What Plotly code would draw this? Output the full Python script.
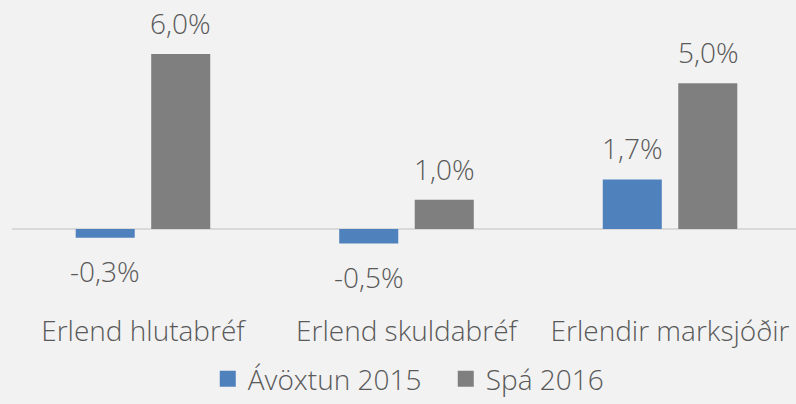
import plotly.graph_objects as go

categories = ["Erlend hlutabréf", "Erlend skuldabréf", "Erlendir marksjóðir"]
series_names = ["Ávöxtun 2015", "Spá 2016"]
avoxtun_2015 = [-0.3, -0.5, 1.7]
spa_2016 = [6.0, 1.0, 5.0]
colors = ["#4F81BD", "#7F7F7F"]

FONT = "Open Sans"
TEXT_COLOR = "#595959"

def fmt(v):
    return f"{v:.1f}".replace(".", ",") + "%"

fig = go.Figure()
for name, vals, col in zip(series_names, [avoxtun_2015, spa_2016], colors):
    fig.add_trace(go.Bar(
        x=categories, y=vals, name=name, marker_color=col,
        marker_line_width=0, hoverinfo="skip", showlegend=False,
    ))

# legend entries with larger square swatches
for name, col in zip(series_names, colors):
    fig.add_trace(go.Scatter(
        x=[None], y=[None], mode="markers", name=name,
        marker=dict(symbol="square", size=16, color=col), hoverinfo="skip",
    ))

# value labels: above positive bars, below negative bars
annotations = []
for i, vals in enumerate([avoxtun_2015, spa_2016]):
    for j, v in enumerate(vals):
        annotations.append(dict(
            x=j, y=v, xref="x", yref="y",
            xshift=(-38 if i == 0 else 38),
            yshift=(31 if v >= 0 else -33),
            text=fmt(v), showarrow=False, yanchor="middle",
            font=dict(family=FONT, size=28, color=TEXT_COLOR, weight=300),
        ))

fig.update_layout(
    width=796, height=404,
    margin=dict(l=12, r=0, t=0, b=92, autoexpand=False),
    paper_bgcolor="#F2F2F2", plot_bgcolor="#F2F2F2",
    barmode="group", bargap=0.427, bargroupgap=0.218,
    font=dict(family=FONT, size=28, color=TEXT_COLOR, weight=300),
    showlegend=True,
    legend=dict(orientation="h", xref="container", yref="container",
                x=0.560, xanchor="center", y=-0.017, yanchor="bottom",
                font=dict(family=FONT, size=28, color=TEXT_COLOR, weight=300),
                itemwidth=30, traceorder="normal", itemsizing="trace",
                entrywidth=193, entrywidthmode="pixels", borderwidth=0),
    annotations=annotations,
    xaxis=dict(showgrid=False, showline=False, ticks="", tickfont=dict(size=28),
               range=[-0.497, 2.478]),
    yaxis=dict(range=[-2.845, 7.85], showgrid=False, showticklabels=False,
               zeroline=True, zerolinecolor="#D9D9D9", zerolinewidth=2, fixedrange=True),
)

fig.write_html("out.html")
